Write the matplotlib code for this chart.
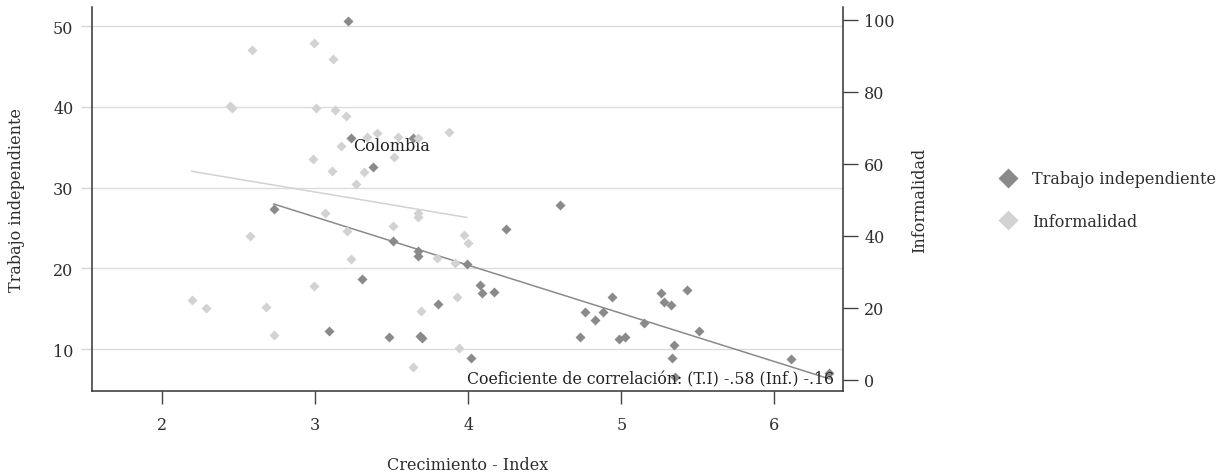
import matplotlib
matplotlib.use("Agg")
import matplotlib.pyplot as plt
from matplotlib.lines import Line2D

plt.rcParams['font.family'] = ['DejaVu Serif']

# ---- data ----
ti_x = [3.212, 3.231, 3.640, 3.379, 2.728, 3.510, 3.669, 3.669, 3.990, 3.303,
        3.800, 3.088, 3.482, 3.685, 3.700, 4.015, 4.600, 4.245, 4.076, 4.092,
        4.168, 4.939, 4.761, 4.826, 4.882, 4.730, 4.987, 5.022, 5.150, 5.259,
        5.277, 5.323, 5.431, 5.510, 5.342, 5.329, 5.351, 6.107, 6.359]
ti_y = [50.7, 36.2, 36.1, 32.6, 27.4, 23.4, 22.1, 21.5, 20.6, 18.7,
        15.6, 12.2, 11.5, 11.6, 11.4, 8.9, 27.9, 24.9, 17.9, 17.0,
        17.1, 16.4, 14.6, 13.6, 14.6, 11.5, 11.3, 11.5, 13.2, 16.9,
        15.8, 15.5, 17.3, 12.3, 10.5, 8.9, 6.6, 8.8, 7.0]

inf_x = [2.588, 2.991, 3.114, 2.440, 2.458, 3.002, 3.129, 3.203, 3.340, 3.405,
         3.543, 3.673, 3.872, 3.168, 3.512, 2.983, 3.111, 3.316, 3.264, 3.061,
         3.673, 3.669, 3.510, 3.209, 2.573, 3.972, 3.996, 3.797, 3.913, 3.231,
         2.991, 3.928, 2.192, 2.288, 2.680, 3.689, 2.732, 3.941, 3.639]
inf_y = [91.5, 93.4, 89.0, 75.9, 75.4, 75.6, 74.8, 73.2, 67.5, 68.6,
         67.5, 67.1, 68.7, 64.9, 61.9, 61.4, 58.0, 57.8, 54.4, 46.3,
         46.3, 45.1, 42.8, 41.2, 40.0, 40.3, 38.0, 33.8, 32.4, 33.5,
         26.2, 22.9, 22.2, 19.9, 20.3, 19.2, 12.5, 8.9, 3.6]

# fitted lines (end points)
fit_ti_x = [2.728, 6.364]
fit_ti_y = [27.98, 6.29]
fit_inf_x = [2.192, 3.990]
fit_inf_y = [57.9, 45.1]

label_point = ("Colombia", 3.231, 36.2)

x_ticks = [2, 3, 4, 5, 6]
left_ticks = [10, 20, 30, 40, 50]
right_ticks = [0, 20, 40, 60, 80, 100]

series_names = ["Trabajo independiente", "Informalidad"]
note = "Coeficiente de correlación: (T.I) -.58 (Inf.) -.16"

# ---- style ----
DARK = "#8a8a8a"
LIGHT = "#d2d2d2"
TXT = "#2e2e2e"
FS = 11.5

W, H = 1227, 477
fig = plt.figure(figsize=(W / 100, H / 100), dpi=100)
L, R, T, B = 91.5, 843.3, 8.3, 391.7
ax = fig.add_axes([L / W, 1 - B / H, (R - L) / W, (B - T) / H])
ax2 = ax.twinx()

ax.set_xlim(1.537, 6.451)
ax.set_ylim(4.845, 52.35)
ax2.set_ylim(-2.97, 103.4)

ax.grid(axis='y', color="#dcdcdc", lw=1.0)
ax.set_axisbelow(True)

ax.plot(fit_ti_x, fit_ti_y, color=DARK, lw=1.1, zorder=2)
ax.plot(ti_x, ti_y, linestyle='none', marker='D', ms=5.6, mfc=DARK, mec='none', zorder=3)
ax2.plot(fit_inf_x, fit_inf_y, color=LIGHT, lw=1.1, zorder=2)
ax2.plot(inf_x, inf_y, linestyle='none', marker='D', ms=5.6, mfc=LIGHT, mec='none', zorder=3)

ax.annotate(label_point[0], xy=(label_point[1], label_point[2]), xytext=(2, -8),
            textcoords='offset pixels', ha='left', va='center', fontsize=FS, color="#222222")

ax.text(0.4999, 0.0305, note, transform=ax.transAxes, ha='left', va='center',
        fontsize=11.3, color="#222222", zorder=5)

# axes / ticks
ax.set_xticks(x_ticks)
ax.set_xticklabels([str(v) for v in x_ticks])
ax.set_yticks(left_ticks)
ax.set_yticklabels([str(v) for v in left_ticks])
ax2.set_yticks(right_ticks)
ax2.set_yticklabels([str(v) for v in right_ticks])

ax.tick_params(axis='x', direction='out', length=9, width=1, color="#444444",
               labelsize=FS, labelcolor=TXT, pad=9)
ax.tick_params(axis='y', direction='out', length=8, width=1, color="#d6d6d6",
               labelsize=FS, labelcolor=TXT, pad=5)
ax2.tick_params(axis='y', direction='out', length=11, width=1, color="#444444",
                labelsize=FS, labelcolor=TXT, pad=4)

for a in (ax, ax2):
    a.spines['top'].set_visible(False)
    for s in ('left', 'right', 'bottom'):
        a.spines[s].set_color("#333333")
        a.spines[s].set_linewidth(1.1)
ax.spines['right'].set_visible(False)
ax2.spines['left'].set_visible(False)
ax2.spines['bottom'].set_visible(False)

ax.set_xlabel("Crecimiento - Index", fontsize=FS, color=TXT)
ax.xaxis.set_label_coords((468 - L) / (R - L), (B - 465) / (B - T))
ax.xaxis.label.set_va('center')

ax.set_ylabel("Trabajo independiente", fontsize=FS, color=TXT)
ax.yaxis.set_label_coords((17 - L) / (R - L), 0.5)
ax.yaxis.label.set_rotation_mode('default')
ax.yaxis.label.set_va('center')
ax.yaxis.label.set_ha('center')

ax2.set_ylabel("Informalidad", fontsize=FS, color=TXT)
ax2.yaxis.set_label_coords((920 - L) / (R - L), (B - 200) / (B - T))
ax2.yaxis.label.set_rotation_mode('default')
ax2.yaxis.label.set_va('center')
ax2.yaxis.label.set_ha('center')

handles = [Line2D([], [], linestyle='none', marker='D', ms=10.5, mfc=DARK, mec='none'),
           Line2D([], [], linestyle='none', marker='D', ms=10.5, mfc=LIGHT, mec='none')]
fig.legend(handles, series_names, loc='center left',
           bbox_to_anchor=(995.7 / W, 1 - 201 / H), frameon=False,
           fontsize=FS, handlelength=1.5, handletextpad=0.75,
           labelspacing=1.6, borderpad=0, borderaxespad=0, labelcolor=TXT)

fig.savefig("out.png", dpi=100)
